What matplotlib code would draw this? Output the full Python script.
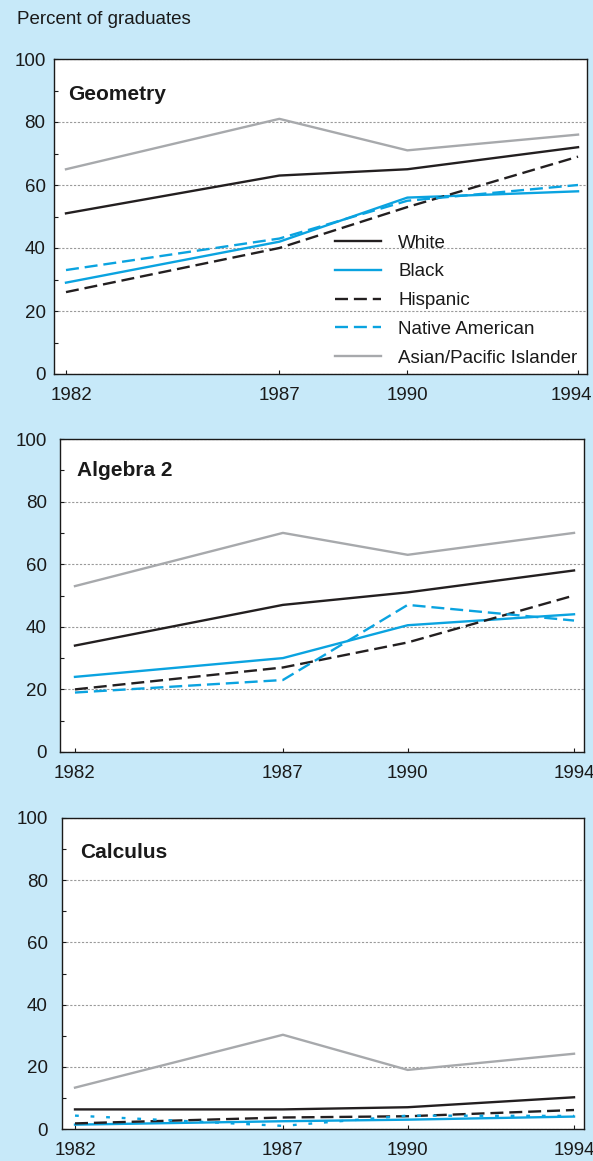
import numpy as np
import matplotlib.pyplot as plt
from matplotlib.transforms import ScaledTranslation

plt.rcParams.update({
    "font.family": ["Liberation Sans", "DejaVu Sans"],
    "font.size": 13.5,
    "axes.linewidth": 1.0,
    "axes.edgecolor": "#1a1a1a",
    "xtick.color": "#1a1a1a",
    "ytick.color": "#1a1a1a",
    "text.color": "#1a1a1a",
})

W, H = 593, 1161
BG = "#c7e9f9"

YEARS = [1982, 1987, 1990, 1994]
GROUPS = ["White", "Black", "Hispanic", "Native American", "Asian/Pacific Islander"]
Y_LABELS = ["0", "20", "40", "60", "80", "100"]

# Percent of graduates, one list per group
GEOMETRY_WHITE = [51, 63, 65, 72]
GEOMETRY_BLACK = [29, 42, 56, 58]
GEOMETRY_HISPANIC = [26, 40, 53, 69]
GEOMETRY_NATIVE = [33, 43, 55, 60]
GEOMETRY_ASIAN = [65, 81, 71, 76]

ALGEBRA2_WHITE = [34, 47, 51, 58]
ALGEBRA2_BLACK = [24, 30, 40.5, 44]
ALGEBRA2_HISPANIC = [20, 27, 35, 50]
ALGEBRA2_NATIVE = [19, 23, 47, 42]
ALGEBRA2_ASIAN = [53, 70, 63, 70]

CALCULUS_WHITE = [6.3, 6.3, 7, 10.2]
CALCULUS_BLACK = [1.4, 2.5, 3, 4]
CALCULUS_HISPANIC = [1.8, 3.7, 4.1, 6.1]
CALCULUS_NATIVE = [4.3, 1, 4.3, 4.2]
CALCULUS_ASIAN = [13.3, 30.3, 19, 24.2]

BLACK = "#231f20"
BLUE = "#0aa3e0"
GRAY = "#a7a9ac"
STYLES = {
    "White": dict(color=BLACK, ls="-"),
    "Black": dict(color=BLUE, ls="-"),
    "Hispanic": dict(color=BLACK, ls=(0, (5.5, 2.5))),
    "Native American": dict(color=BLUE, ls=(0, (5.5, 2.5))),
    "Asian/Pacific Islander": dict(color=GRAY, ls="-"),
}


def px_axes(fig, left, top, right, bottom):
    return fig.add_axes([left / W, 1 - bottom / H,
                         (right - left) / W, (bottom - top) / H])


def plot_panel(ax, title, series, xlim, ypad, title_xy, styles=STYLES):
    for name, vals in zip(GROUPS, series):
        ax.plot(YEARS, vals, lw=1.7, label=name, **styles[name])

    ax.set_xlim(*xlim)
    ax.set_ylim(0, 100)
    ax.set_xticks(YEARS)
    ax.set_xticklabels([str(y) for y in YEARS])
    ax.set_yticks(np.arange(0, 101, 20))
    ax.set_yticklabels(Y_LABELS)
    ax.set_yticks(np.arange(10, 100, 20), minor=True)
    ax.tick_params(axis="both", which="both", direction="in",
                   length=3.2, width=0.8, labelsize=13.5)
    ax.tick_params(axis="x", pad=9.5)
    ax.tick_params(axis="y", pad=ypad)

    ax.set_axisbelow(True)
    ax.yaxis.grid(True, which="major", color="#9a9a9a",
                  ls=(0, (2, 1.5)), lw=0.8)
    ax.set_facecolor("white")

    ax.text(title_xy[0], title_xy[1], title, transform=ax.transAxes,
            fontsize=15, fontweight="bold", va="baseline", ha="left")


def main():
    fig = plt.figure(figsize=(W / 100, H / 100), dpi=100, facecolor=BG)

    fig.text(17 / W, 1 - 23.5 / H, "Percent of graduates",
             fontsize=13.5, va="baseline", ha="left")

    # ── Geometry ──
    ax1 = px_axes(fig, 54.3, 59, 587, 374)
    plot_panel(ax1, "Geometry",
               [GEOMETRY_WHITE, GEOMETRY_BLACK, GEOMETRY_HISPANIC,
                GEOMETRY_NATIVE, GEOMETRY_ASIAN],
               (1981.726, 1994.21), 6.3, (0.026, 0.87))
    labels = ax1.get_xticklabels()
    for lab, dx in ((labels[0], 6), (labels[-1], -7)):
        lab.set_transform(lab.get_transform()
                          + ScaledTranslation(dx / 100, 0, fig.dpi_scale_trans))
    ax1.legend(loc="upper left", bbox_to_anchor=(0.527, 0.443),
               frameon=False, borderpad=0, borderaxespad=0,
               handlelength=2.45, handletextpad=0.92, labelspacing=0.62,
               fontsize=13.5)

    # ── Algebra 2 ──
    ax2 = px_axes(fig, 60, 439, 584, 752)
    plot_panel(ax2, "Algebra 2",
               [ALGEBRA2_WHITE, ALGEBRA2_BLACK, ALGEBRA2_HISPANIC,
                ALGEBRA2_NATIVE, ALGEBRA2_ASIAN],
               (1981.64, 1994.24), 9.4, (0.033, 0.882))

    # ── Calculus ──
    calc_styles = dict(STYLES)
    calc_styles["Native American"] = dict(color=BLUE, ls=(0, (1.6, 5)))
    ax3 = px_axes(fig, 61.7, 818, 584, 1129)
    plot_panel(ax3, "Calculus",
               [CALCULUS_WHITE, CALCULUS_BLACK, CALCULUS_HISPANIC,
                CALCULUS_NATIVE, CALCULUS_ASIAN],
               (1981.68, 1994.24), 9.9, (0.036, 0.87), calc_styles)

    fig.savefig("out.png", dpi=100, facecolor=BG)
    plt.close(fig)


if __name__ == "__main__":
    main()
